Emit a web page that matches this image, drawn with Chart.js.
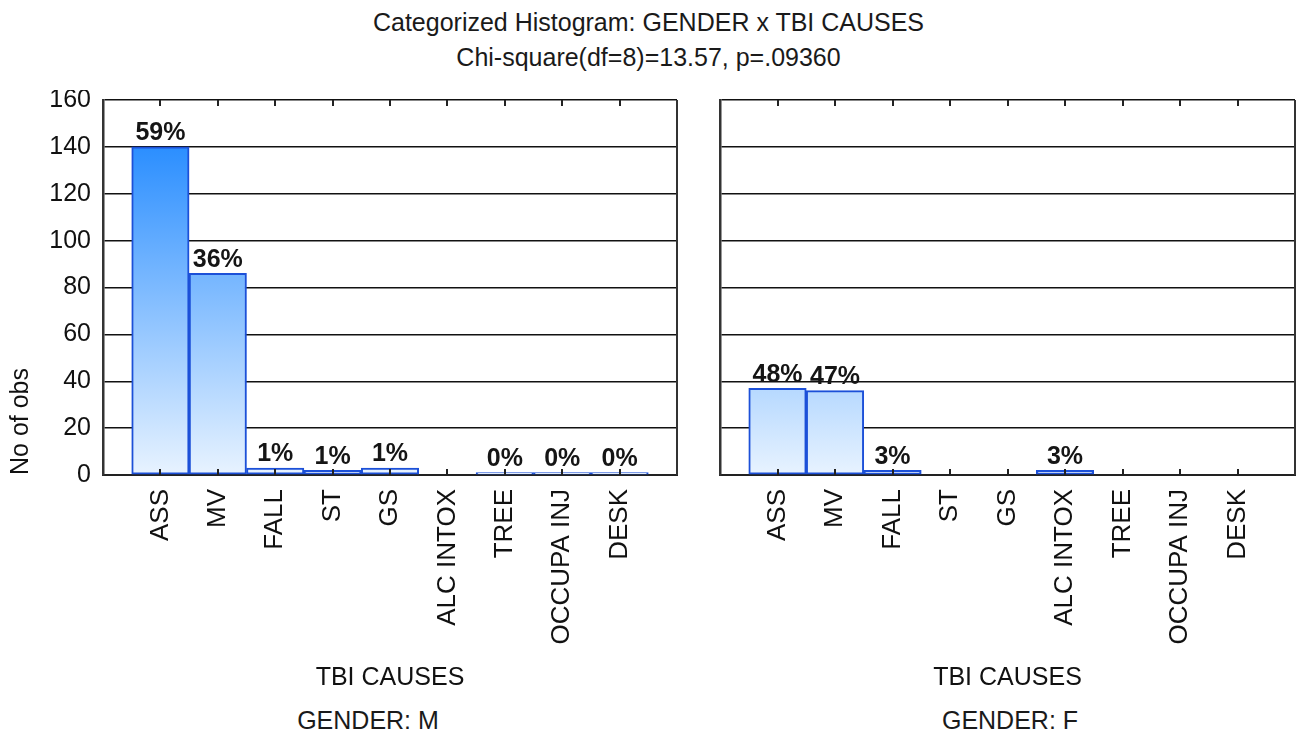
<!DOCTYPE html>
<html>
<head>
<meta charset="utf-8">
<script src="https://cdn.jsdelivr.net/npm/chart.js@4"></script>
<style>
  body { margin: 0; background: #fff; font-family: "Liberation Sans", Arial, sans-serif; color: #1a1a1a; }
  .title { position: absolute; left: 0; width: 1297px; text-align: center; font-size: 25px; }
  .panel { position: absolute; top: 90px; height: 605px; }
  .gender { position: absolute; top: 706px; font-size: 25px; text-align: center; }
</style>
</head>
<body>
<div class="title" style="top:8px">Categorized Histogram: GENDER x TBI CAUSES</div>
<div class="title" style="top:43px">Chi-square(df=8)=13.57, p=.09360</div>

<div class="panel" style="left:0;width:690px"><canvas id="chartM"></canvas></div>
<div class="panel" style="left:707px;width:590px"><canvas id="chartF"></canvas></div>

<div class="gender" style="left:268px;width:200px">GENDER: M</div>
<div class="gender" style="left:910px;width:200px">GENDER: F</div>

<script>
const causes = ['ASS', 'MV', 'FALL', 'ST', 'GS', 'ALC INTOX', 'TREE', 'OCCUPA INJ', 'DESK'];
const countsMale = [140, 86, 3, 2, 3, 0, 1, 1, 1];
const countsFemale = [37, 36, 2, 0, 0, 2, 0, 0, 0];
const yTicks = [0, 20, 40, 60, 80, 100, 120, 140, 160];

const FONT = '"Liberation Sans", Arial, sans-serif';

function barGradient(context) {
  const chart = context.chart;
  const area = chart.chartArea;
  if (!area) return '#7ab8ff';
  const g = chart.ctx.createLinearGradient(0, area.top, 0, area.bottom);
  g.addColorStop(0, '#1080ff');
  g.addColorStop(1, '#e8f3ff');
  return g;
}

// percent labels above each non-empty bar
const percentLabels = {
  id: 'percentLabels',
  afterDatasetsDraw(chart) {
    const ctx = chart.ctx;
    const counts = chart.data.datasets[0].counts;
    const total = counts.reduce((a, b) => a + b, 0);
    const meta = chart.getDatasetMeta(0);
    ctx.save();
    ctx.font = 'bold 25px ' + FONT;
    ctx.fillStyle = '#151515';
    ctx.textAlign = 'center';
    ctx.textBaseline = 'bottom';
    meta.data.forEach((bar, i) => {
      if (!counts[i]) return;
      const pct = Math.round(counts[i] / total * 100);
      ctx.fillText(pct + '%', bar.x, bar.y - 1);
    });
    ctx.restore();
  }
};

// inner tick marks top and bottom, plus right frame line
const frame = {
  id: 'frame',
  afterDraw(chart) {
    const ctx = chart.ctx;
    const a = chart.chartArea;
    const x = chart.scales.x;
    ctx.save();
    ctx.strokeStyle = '#222';
    ctx.lineWidth = 2;
    causes.forEach((c, i) => {
      const px = Math.round(x.getPixelForValue(i + 1));
      ctx.beginPath();
      ctx.moveTo(px, a.bottom);
      ctx.lineTo(px, a.bottom - 6);
      ctx.moveTo(px, a.top);
      ctx.lineTo(px, a.top + 6);
      ctx.stroke();
    });
    ctx.strokeStyle = '#333';
    ctx.beginPath();
    ctx.moveTo(a.right, a.top);
    ctx.lineTo(a.right, a.bottom);
    ctx.stroke();
    ctx.restore();
  }
};

function makeChart(id, counts, showY, yWidth, padRight) {
  return new Chart(document.getElementById(id), {
    type: 'bar',
    data: {
      datasets: [{
        counts: counts,
        data: counts.map((v, i) => ({ x: i + 1, y: v === 0 ? null : v })),
        backgroundColor: barGradient,
        borderColor: '#1c50d8',
        borderWidth: 2,
        borderSkipped: false,
        barPercentage: 1,
        categoryPercentage: 1
      }]
    },
    options: {
      responsive: true,
      maintainAspectRatio: false,
      animation: false,
      layout: { padding: { top: 10, right: padRight, left: 0, bottom: 0 } },
      plugins: { legend: { display: false }, tooltip: { enabled: false } },
      scales: {
        x: {
          type: 'linear',
          offset: false,
          min: 0,
          max: causes.length + 1,
          afterBuildTicks(scale) {
            scale.ticks = causes.map((c, i) => ({ value: i + 1 }));
          },
          afterFit(scale) {
            scale.height = 220;
            scale.paddingLeft = 0;
            scale.paddingRight = 0;
          },
          grid: { display: false, drawTicks: false, offset: false },
          border: { display: true, color: '#222', width: 2 },
          ticks: {
            autoSkip: false,
            minRotation: 90,
            maxRotation: 90,
            padding: 14,
            color: '#111',
            font: { family: FONT, size: 26 },
            callback: (v) => causes[v - 1] || ''
          },
          title: {
            display: true,
            text: 'TBI CAUSES',
            color: '#111',
            font: { family: FONT, size: 25 },
            padding: { top: 0, bottom: 2 }
          }
        },
        y: {
          min: yTicks[0],
          max: yTicks[yTicks.length - 1],
          afterBuildTicks(scale) {
            scale.ticks = yTicks.map(v => ({ value: v }));
          },
          afterFit(scale) {
            scale.width = yWidth;
            scale.paddingTop = 0;
            scale.paddingBottom = 0;
          },
          grid: { color: '#111', lineWidth: 1.5, drawTicks: false },
          border: { display: true, color: '#333', width: 2.5 },
          ticks: {
            display: showY,
            padding: 12,
            color: '#111',
            font: { family: FONT, size: 25 }
          },
          title: {
            display: showY,
            text: 'No of obs',
            align: 'start',
            color: '#111',
            font: { family: FONT, size: 25 },
            padding: { top: 6, bottom: 0 }
          }
        }
      }
    },
    plugins: [percentLabels, frame]
  });
}

makeChart('chartM', countsMale, true, 103, 13);
makeChart('chartF', countsFemale, false, 13, 2);
</script>
</body>
</html>
